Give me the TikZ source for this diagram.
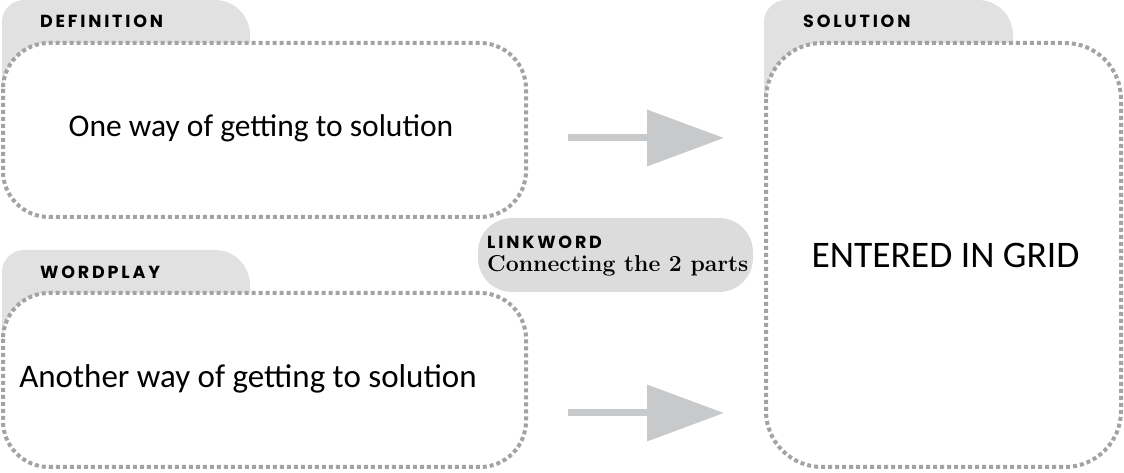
\documentclass[tikz,border=0pt]{standalone}
\usepackage{fontspec}
\usetikzlibrary{arrows.meta}
\newfontfamily\bodyfont{Carlito}
\newfontfamily\tabfont[LetterSpace=16]{Poppins}
\definecolor{tabgray}{HTML}{E1E1E1}
\definecolor{pillgray}{HTML}{DCDCDC}
\definecolor{dotgray}{HTML}{A3A3A3}
\definecolor{arrowgray}{HTML}{C8C9CA}
\tikzset{
  dotbox/.style={draw=dotgray, line width=4pt, dash pattern=on 4pt off 3pt, fill=white},
  tabtext/.style={anchor=base west, inner sep=0pt, font=\tabfont\bfseries\fontsize{17.5}{17.5}\selectfont},
  bodytext/.style={inner sep=0pt},
  bigarrow/.style={draw=arrowgray, line width=7pt, -{Triangle[length=77pt,width=55pt,fill=arrowgray]}},
}
\begin{document}
\begin{tikzpicture}[x=1pt,y=1pt]
\useasboundingbox (0,0) rectangle (1124,473);
% tabs
\fill[tabgray] (2,380) -- (2,451) arc[start angle=180,end angle=90,radius=22] -- (215,473) arc[start angle=90,end angle=0,radius=35] -- (250,380) -- cycle;
\fill[tabgray] (2,130) -- (2,201) arc[start angle=180,end angle=90,radius=22] -- (215,223) arc[start angle=90,end angle=0,radius=35] -- (250,130) -- cycle;
\fill[tabgray] (764,380) -- (764,451) arc[start angle=180,end angle=90,radius=22] -- (978,473) arc[start angle=90,end angle=0,radius=35] -- (1013,380) -- cycle;
% boxes
\draw[dotbox, rounded corners=46pt] (3,430) rectangle (526,256);
\draw[dotbox, rounded corners=46pt] (3,180) rectangle (526,6);
\draw[dotbox, rounded corners=56pt] (766,430) rectangle (1121,6);
% labels
\node[tabtext] (deflabel) at (40,445) {DEFINITION};
\node[tabtext] (wplabel) at (40,194) {WORDPLAY};
\node[tabtext] (sollabel) at (803,445) {SOLUTION};
% body texts
\node[bodytext, font=\bodyfont\fontsize{31.5}{31.5}\selectfont] (def) at (261,345) {One way of getting to solution};
\node[bodytext, font=\bodyfont\fontsize{33}{33}\selectfont] (wp) at (248,94.5) {Another way of getting to solution};
\node[bodytext, font=\bodyfont\fontsize{37.5}{37.5}\selectfont] (sol) at (945.5,218) {ENTERED IN GRID};
% linkword pill
\fill[pillgray, rounded corners=34pt] (478,255) rectangle (753,181);
\node[tabtext] (lklabel) at (487,224) {LINKWORD};
\node[anchor=base west, inner sep=0pt, font=\bfseries\fontsize{23}{23}\selectfont] (lktext) at (487,201) {Connecting the 2 parts};
% arrows
\coordinate (a1s) at (568,335);
\coordinate (a1e) at (724,335);
\coordinate (a2s) at (568,60);
\coordinate (a2e) at (724,60);
\draw[bigarrow] (a1s) -- (a1e);
\draw[bigarrow] (a2s) -- (a2e);
\end{tikzpicture}
\end{document}
